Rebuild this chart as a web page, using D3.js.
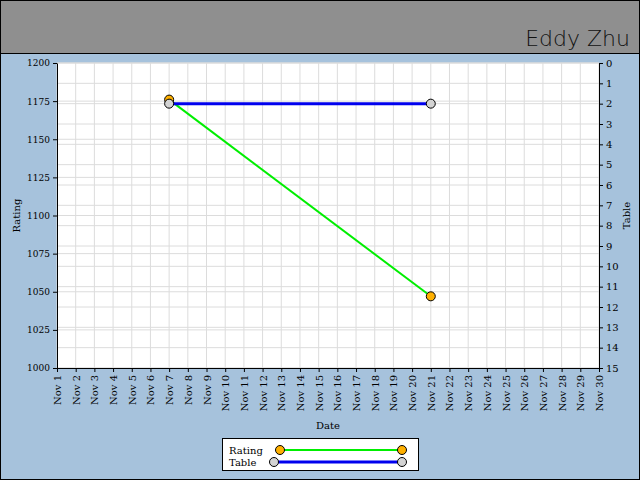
<!DOCTYPE html><html><head><meta charset="utf-8"><script src="https://cdn.jsdelivr.net/npm/d3@7"></script>
<style>body{margin:0}svg{display:block}text{font-family:"DejaVu Serif",serif;font-size:10px}</style></head><body>
<svg width="640" height="480"></svg>
<script>
const days = d3.range(1,31);
const dayLabels = days.map(d=>"Nov "+d);
const ratingDays=[7,21], ratingValues=[1176,1047];
const tableDays=[7,21], tableValues=[2,2];
const svg=d3.select("svg");
svg.append("rect").attr("x",0.5).attr("y",0.5).attr("width",639).attr("height",479).attr("fill","#a6c2dc").attr("stroke","#000");
svg.append("rect").attr("x",0.5).attr("y",0.5).attr("width",639).attr("height",53).attr("fill","#8f8f8f").attr("stroke","#000");
svg.append("text").attr("x",630).attr("y",46).attr("text-anchor","end").style("font-family","'DejaVu Sans'").style("font-weight","200").style("font-size","22px").attr("fill","#111").text("Eddy Zhu");
const L=57,R=599,T=63,B=368;
const x=d3.scaleLinear().domain([1,30]).range([L,R]);
const y=d3.scaleLinear().domain([1000,1200]).range([B,T]);
const y2=d3.scaleLinear().domain([0,15]).range([T,B]);
svg.append("rect").attr("x",L).attr("y",T).attr("width",R-L).attr("height",B-T).attr("fill","#fff");
const g=svg.append("g").attr("stroke","#dcdcdc");
days.forEach(d=>g.append("line").attr("x1",x(d)).attr("x2",x(d)).attr("y1",T).attr("y2",B));
d3.range(0,16).forEach(d=>g.append("line").attr("x1",L).attr("x2",R).attr("y1",y2(d)).attr("y2",y2(d)));
d3.range(1000,1201,25).forEach(d=>g.append("line").attr("x1",L).attr("x2",R).attr("y1",y(d)).attr("y2",y(d)));
svg.append("g").attr("transform",`translate(${L},0)`).call(d3.axisLeft(y).tickValues(d3.range(1000,1201,25)).tickFormat(d3.format("d")).tickSize(4).tickSizeOuter(0)).call(a=>a.selectAll("text").style("font-family","DejaVu Serif").style("font-size","9px"));
svg.append("g").attr("transform",`translate(${R},0)`).call(d3.axisRight(y2).ticks(15).tickSize(4).tickSizeOuter(0)).call(a=>a.selectAll("text").style("font-family","DejaVu Serif").style("font-size","10px"));
svg.append("g").attr("transform",`translate(0,${B})`).call(d3.axisBottom(x).tickValues(days).tickFormat((d,i)=>dayLabels[i]).tickSize(4).tickSizeOuter(0))
 .call(a=>a.selectAll("text").style("font-family","DejaVu Serif").style("font-size","10px").attr("transform","rotate(-90)").attr("text-anchor","end").attr("x",-7).attr("y",0).attr("dy","0.35em"));
svg.append("text").attr("x",(L+R)/2).attr("y",429).attr("text-anchor","middle").text("Date");
svg.append("text").attr("transform",`translate(20,${(T+B)/2}) rotate(-90)`).attr("text-anchor","middle").text("Rating");
svg.append("text").attr("transform",`translate(630,${(T+B)/2}) rotate(-90)`).attr("text-anchor","middle").text("Table");
const rp=ratingDays.map((d,i)=>[x(d),y(ratingValues[i])]);
const tp=tableDays.map((d,i)=>[x(d),y2(tableValues[i])]);
svg.append("path").attr("d",d3.line()(rp)).attr("stroke","#00ee00").attr("stroke-width",2).attr("fill","none");
svg.append("path").attr("d",d3.line()(tp)).attr("stroke","#0000ee").attr("stroke-width",3).attr("fill","none");
rp.forEach(p=>svg.append("circle").attr("cx",p[0]).attr("cy",p[1]).attr("r",4.5).attr("fill","#ffb000").attr("stroke","#000"));
tp.forEach(p=>svg.append("circle").attr("cx",p[0]).attr("cy",p[1]).attr("r",4.5).attr("fill","#d3d3d3").attr("stroke","#000"));
svg.append("rect").attr("x",222.5).attr("y",438.5).attr("width",196).attr("height",32).attr("fill","#fff").attr("stroke","#000");
svg.append("text").attr("x",229).attr("y",454).text("Rating");
svg.append("text").attr("x",229).attr("y",466).text("Table");
svg.append("line").attr("x1",280).attr("x2",402).attr("y1",450).attr("y2",450).attr("stroke","#00ee00").attr("stroke-width",2);
svg.append("line").attr("x1",274).attr("x2",402).attr("y1",462).attr("y2",462).attr("stroke","#0000ee").attr("stroke-width",3);
[[280,450,"#ffb000"],[402,450,"#ffb000"],[274,462,"#d3d3d3"],[402,462,"#d3d3d3"]].forEach(c=>svg.append("circle").attr("cx",c[0]).attr("cy",c[1]).attr("r",4.5).attr("fill",c[2]).attr("stroke","#000"));
</script></body></html>
